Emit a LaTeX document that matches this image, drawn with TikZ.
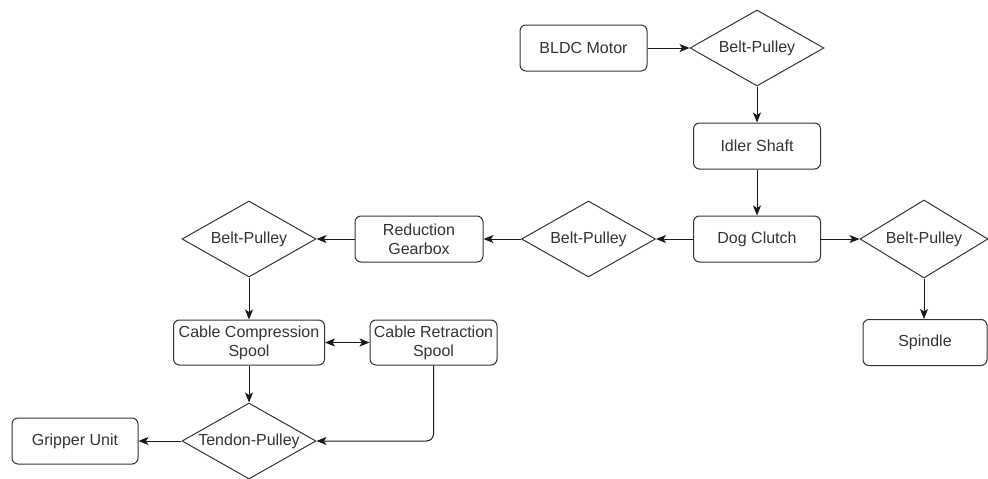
\documentclass[tikz,border=0pt]{standalone}
\usepackage{fontspec}
\setmainfont{Liberation Sans}
\usetikzlibrary{shapes.geometric,arrows.meta}
\definecolor{ink}{HTML}{333333}
\definecolor{wire}{HTML}{1A1A1A}
\tikzset{
  every node/.style={font=\fontsize{16}{19}\selectfont, text=ink, align=center},
  blockbox/.style={draw=ink, line width=1pt, rounded corners=6pt,
    minimum width=127pt, minimum height=46pt, inner sep=0pt},
  pulley/.style={draw=ink, line width=1pt, diamond, aspect=1.76,
    minimum width=134pt, minimum height=76pt, inner sep=0pt},
  tip/.tip={Stealth[length=10pt,width=8pt,inset=2.5pt]},
  flow/.style={draw=wire, line width=1pt, -tip},
  twoway/.style={draw=wire, line width=1pt, tip-tip}
}
\begin{document}
\begin{tikzpicture}[x=1pt,y=-1pt]
\useasboundingbox (0,0) rectangle (988,479);

% drive train, top
\node[blockbox] (motor) at (583.5,48) {BLDC Motor};
\node[pulley] (bp1) at (757,48) {Belt-Pulley};
\node[blockbox] (idler) at (757,146) {Idler Shaft};
\node[blockbox] (clutch) at (757,239) {Dog Clutch};

% spindle branch
\node[pulley, minimum width=128pt, minimum height=78pt] (bp4) at (924,239) {Belt-Pulley};
\node[blockbox, minimum width=124pt] (spindle) at (925,342.5) {Spindle};

% gripper branch
\node[pulley] (bp2) at (588.5,239) {Belt-Pulley};
\node[blockbox, minimum width=128pt] (gearbox) at (419,239) {Reduction\\Gearbox};
\node[pulley] (bp3) at (249,239) {Belt-Pulley};
\node[blockbox, minimum width=151pt, minimum height=45pt] (compress) at (249,342.5) {Cable Compression\\Spool};
\node[blockbox, minimum width=127pt, minimum height=45pt] (retract) at (433.5,342.5) {Cable Retraction\\Spool};
\node[pulley] (tendon) at (249,441) {Tendon-Pulley};
\node[blockbox, minimum width=126pt] (gripper) at (75,441) {Gripper Unit};

% connectors
\draw[flow] (motor) -- (bp1);
\draw[flow] (bp1) -- (idler);
\draw[flow] (idler) -- (clutch);
\draw[flow] (clutch) -- (bp4);
\draw[flow] (bp4.south) -- (bp4.south |- spindle.north);
\draw[flow] (clutch) -- (bp2);
\draw[flow] (bp2) -- (gearbox);
\draw[flow] (gearbox) -- (bp3);
\draw[flow] (bp3.south) -- (bp3.south |- compress.north);
\draw[twoway] (compress) -- (retract);
\draw[flow] (compress.south) -- (tendon.north);
\draw[flow, rounded corners=7pt] (retract.south) |- (tendon.east);
\draw[flow] (tendon) -- (gripper);
\end{tikzpicture}
\end{document}
